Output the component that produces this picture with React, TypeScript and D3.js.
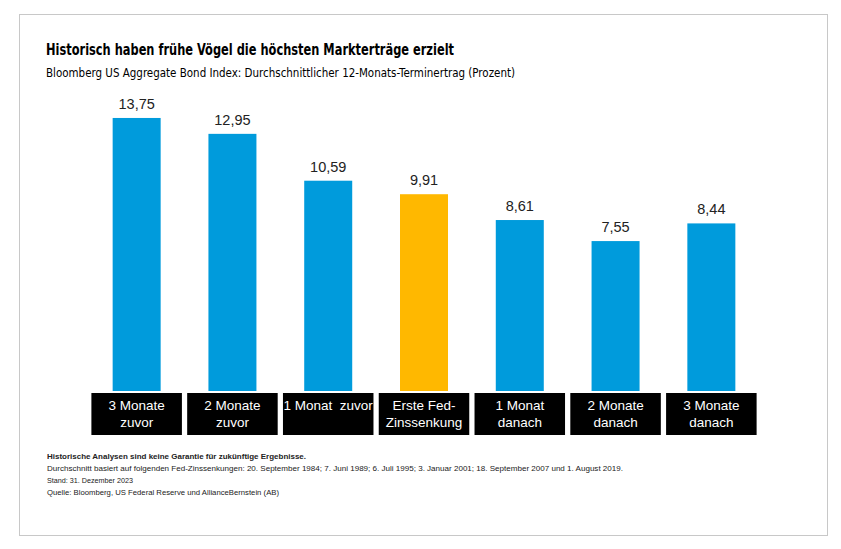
import { useEffect, useRef } from 'react';
import * as d3 from 'd3';

const categories = [
  ['3 Monate', 'zuvor'],
  ['2 Monate', 'zuvor'],
  ['1 Monat  zuvor'],
  ['Erste Fed-', 'Zinssenkung'],
  ['1 Monat', 'danach'],
  ['2 Monate', 'danach'],
  ['3 Monate', 'danach'],
];
const values = [13.75, 12.95, 10.59, 9.91, 8.61, 7.55, 8.44];
const highlighted = [false, false, false, true, false, false, false];

const title = 'Historisch haben frühe Vögel die höchsten Markterträge erzielt';
const subtitle = 'Bloomberg US Aggregate Bond Index: Durchschnittlicher 12-Monats-Terminertrag (Prozent)';
const notes = [
  'Historische Analysen sind keine Garantie für zukünftige Ergebnisse.',
  'Durchschnitt basiert auf folgenden Fed-Zinssenkungen: 20. September 1984; 7. Juni 1989; 6. Juli 1995; 3. Januar 2001; 18. September 2007 und 1. August 2019.',
  'Stand: 31. Dezember 2023',
  'Quelle: Bloomberg, US Federal Reserve und AllianceBernstein (AB)',
];
// measured widths of the footnote lines in the reference
const noteWidths = [259, 576, 86, 232];

const BLUE = '#009bdc';
const YELLOW = '#ffb800';

export default function App() {
  const svgRef = useRef<SVGSVGElement>(null);

  useEffect(() => {
    if (!svgRef.current) return;
    d3.select(svgRef.current).selectAll('*').remove();

    const width = 841;
    const height = 549;
    const svg = d3.select(svgRef.current).attr('width', width).attr('height', height);

    svg.append('rect').attr('width', width).attr('height', height).attr('fill', '#fff');

    // frame
    svg
      .append('rect')
      .attr('x', 19.5)
      .attr('y', 14.5)
      .attr('width', 808)
      .attr('height', 521)
      .attr('fill', 'none')
      .attr('stroke', '#c8c8c8')
      .attr('stroke-width', 1);

    svg
      .append('text')
      .attr('x', 46)
      .attr('y', 55)
      .attr('font-family', '"DejaVu Sans Condensed", "Liberation Sans Narrow", sans-serif')
      .attr('font-weight', 'bold')
      .attr('font-size', 15.5)
      .attr('fill', '#000')
      .attr('textLength', 408)
      .attr('lengthAdjust', 'spacingAndGlyphs')
      .text(title);

    svg
      .append('text')
      .attr('x', 46)
      .attr('y', 77)
      .attr('font-family', '"DejaVu Sans Condensed", "Liberation Sans Narrow", sans-serif')
      .attr('font-size', 12)
      .attr('fill', '#000')
      .attr('textLength', 469)
      .attr('lengthAdjust', 'spacingAndGlyphs')
      .text(subtitle);

    const idx = d3.range(values.length);
    const x = d3.scaleBand<number>().domain(idx).range([89, 759]).paddingInner(0.055).paddingOuter(0.025);
    const y = d3.scaleLinear().domain([0, 14]).range([391, 113]);
    const barW = 48;

    const g = svg.append('g');

    g.selectAll('rect.bar')
      .data(idx)
      .enter()
      .append('rect')
      .attr('class', 'bar')
      .attr('x', (i) => x(i)! + x.bandwidth() / 2 - barW / 2)
      .attr('y', (i) => y(values[i]))
      .attr('width', barW)
      .attr('height', (i) => y(0) - y(values[i]))
      .attr('fill', (i) => (highlighted[i] ? YELLOW : BLUE));

    g.selectAll('text.val')
      .data(idx)
      .enter()
      .append('text')
      .attr('class', 'val')
      .attr('x', (i) => x(i)! + x.bandwidth() / 2)
      .attr('y', (i) => y(values[i]) - 9)
      .attr('text-anchor', 'middle')
      .attr('font-family', '"Liberation Sans", Arial, sans-serif')
      .attr('font-size', 14.5)
      .attr('fill', '#222')
      .text((i) => d3.format('.2f')(values[i]).replace('.', ','));

    // category boxes
    g.selectAll('rect.box')
      .data(idx)
      .enter()
      .append('rect')
      .attr('class', 'box')
      .attr('x', (i) => x(i)!)
      .attr('y', 393)
      .attr('width', x.bandwidth())
      .attr('height', 42)
      .attr('fill', '#000');

    const labels = g
      .selectAll('text.cat')
      .data(idx)
      .enter()
      .append('text')
      .attr('class', 'cat')
      .attr('text-anchor', 'middle')
      .attr('font-family', '"Liberation Sans", Arial, sans-serif')
      .attr('font-size', 13.5)
      .attr('fill', '#fff')
      .style('white-space', 'pre');

    labels
      .selectAll('tspan')
      .data((i) => categories[i].map((line, k) => ({ line, k, i })))
      .enter()
      .append('tspan')
      .attr('x', (d) => x(d.i)! + x.bandwidth() / 2)
      .attr('y', (d) => 410 + d.k * 17)
      .text((d) => d.line);

    // footnotes
    svg
      .selectAll('text.note')
      .data(notes)
      .enter()
      .append('text')
      .attr('class', 'note')
      .attr('x', 47)
      .attr('y', (_, k) => 459 + k * 12)
      .attr('font-family', '"Liberation Sans", Arial, sans-serif')
      .attr('font-size', 7.8)
      .attr('font-weight', (_, k) => (k === 0 ? 'bold' : 'normal'))
      .attr('fill', '#222')
      .attr('textLength', (_, k) => noteWidths[k])
      .attr('lengthAdjust', 'spacingAndGlyphs')
      .text((d) => d);
  }, []);

  return (
    <div style={{ position: 'absolute', left: 0, top: 0 }}>
      <svg ref={svgRef}></svg>
    </div>
  );
}
